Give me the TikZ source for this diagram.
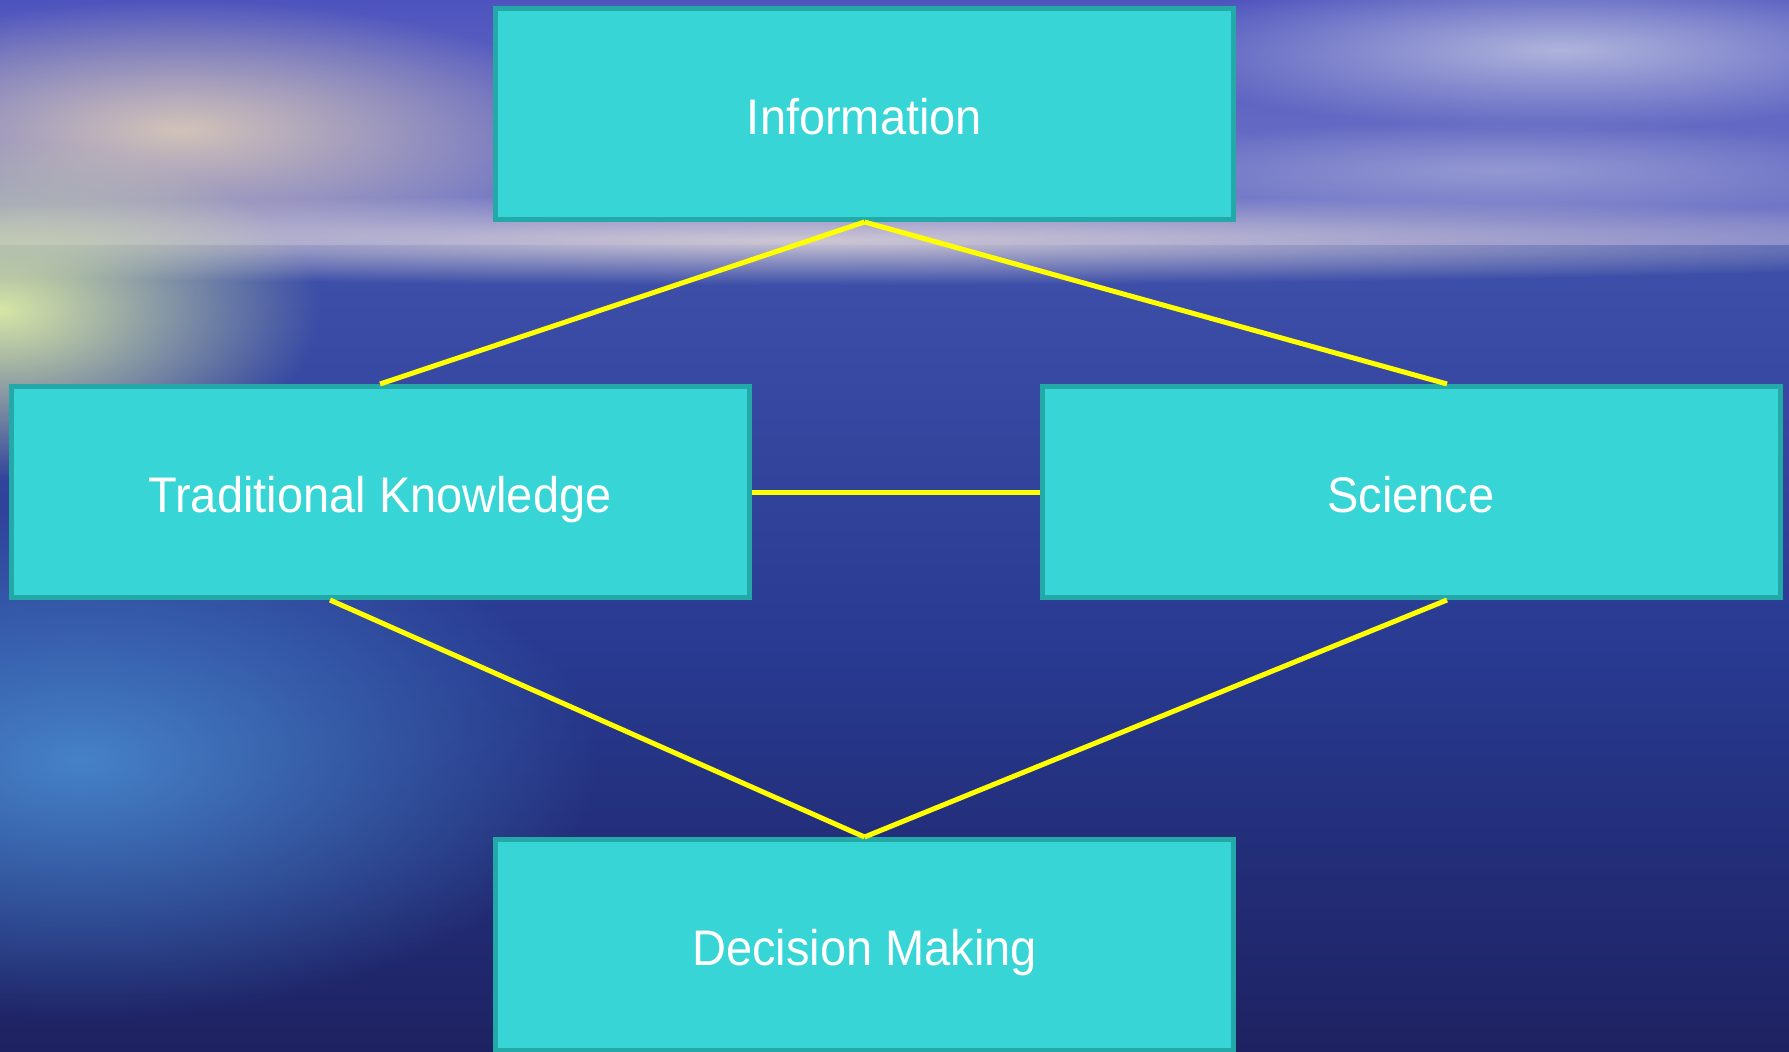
\documentclass[tikz,border=0pt]{standalone}
\usepackage{fontspec}
\setmainfont{Liberation Sans}
\usetikzlibrary{fadings}
\tikzfading[name=glow, inner color=transparent!0, outer color=transparent!100]
\definecolor{boxfill}{RGB}{56,213,214}
\definecolor{boxborder}{RGB}{34,169,168}
\definecolor{lineyellow}{RGB}{255,255,0}
\definecolor{skytop}{RGB}{78,84,190}
\definecolor{skylow}{RGB}{120,125,200}
\definecolor{haze}{RGB}{205,198,212}
\definecolor{oceantop}{RGB}{62,80,170}
\definecolor{oceanmid}{RGB}{40,58,145}
\definecolor{oceanbot}{RGB}{30,34,98}
\definecolor{cloudA}{RGB}{210,195,185}
\definecolor{cloudB}{RGB}{175,180,220}
\definecolor{sunglow}{RGB}{215,230,165}
\definecolor{waterlight}{RGB}{70,130,200}
\tikzset{
  box/.style={draw=boxborder, line width=5pt, fill=boxfill,
    minimum width=738pt, minimum height=211pt, inner sep=0pt,
    text height=50pt, text depth=10pt,
    text=white, font=\fontsize{50}{60}\selectfont},
  link/.style={draw=lineyellow, line width=5pt}
}
\begin{document}
\begin{tikzpicture}[x=1pt,y=-1pt]
\useasboundingbox (0,0) rectangle (1789,1052);
% background: sky and ocean
\shade[top color=skytop, bottom color=skylow] (0,0) rectangle (1789,250);
\shade[top color=oceantop, bottom color=oceanbot, middle color=oceanmid] (0,245) rectangle (1789,1052);
\fill[cloudA, path fading=glow] (180,130) ellipse (420 and 130);
\fill[cloudB, path fading=glow] (1560,50) ellipse (420 and 80);
\fill[cloudB, path fading=glow, opacity=0.6] (1500,170) ellipse (400 and 50);
\fill[haze, path fading=glow] (800,240) ellipse (1400 and 45);
\fill[sunglow, path fading=glow] (0,310) ellipse (320 and 170);
\fill[waterlight, path fading=glow] (80,760) ellipse (520 and 260);
% nodes
\node[box] (info) at (864.5,114) {\scalebox{0.94}[1]{Information}};
\node[box] (tk)   at (380,492)   {\scalebox{0.94}[1]{Traditional Knowledge}};
\node[box] (sci)  at (1411,492)  {\scalebox{0.94}[1]{Science}};
\node[box] (dm)   at (864.5,945) {\scalebox{0.94}[1]{Decision Making}};
% connectors
\draw[link] (info.south) -- (tk.north);
\draw[link] (info.south) -- ([xshift=36pt]sci.north);
\draw[link] (tk.east) -- (sci.west);
\draw[link] ([xshift=-50pt]tk.south) -- (dm.north);
\draw[link] ([xshift=36pt]sci.south) -- (dm.north);
\end{tikzpicture}
\end{document}
